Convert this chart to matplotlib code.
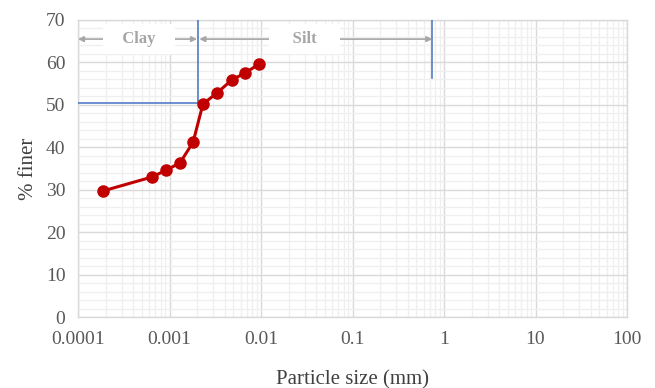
import matplotlib
matplotlib.use("Agg")
import matplotlib.pyplot as plt
from matplotlib.ticker import LogLocator, MultipleLocator, FixedLocator, FixedFormatter, NullFormatter

# Data
particle_size = [1.87e-4, 6.44e-4, 9.16e-4, 1.30e-3, 1.81e-3, 2.32e-3, 3.30e-3, 4.82e-3, 6.68e-3, 9.5e-3]
percent_finer = [29.7, 33.0, 34.6, 36.3, 41.2, 50.2, 52.8, 55.9, 57.5, 59.6]
x_ticks = [1e-4, 1e-3, 1e-2, 1e-1, 1, 10, 100]
x_tick_labels = ["0.0001", "0.001", "0.01", "0.1", "1", "10", "100"]
y_ticks = [0, 10, 20, 30, 40, 50, 60, 70]
clay_silt_boundary = 0.00206
silt_upper = 0.745
d_level = 50.4
silt_line_bottom = 56.4
arrow_level = 65.5
clay_label_x = 4.6e-4
silt_label_x = 0.03

plt.rcParams['font.family'] = ['Liberation Serif', 'DejaVu Serif']

fig = plt.figure(figsize=(6.55, 3.88), dpi=100)
ax = fig.add_axes([78/655, 1-317/388, (627-78)/655, (317-20)/388])

ax.set_xscale('log')
ax.set_xlim(1e-4, 100)
ax.set_ylim(0, 70)

ax.xaxis.set_major_locator(FixedLocator(x_ticks))
ax.xaxis.set_major_formatter(FixedFormatter(x_tick_labels))
ax.xaxis.set_minor_locator(LogLocator(base=10, subs=range(2, 10), numticks=100))
ax.xaxis.set_minor_formatter(NullFormatter())
ax.yaxis.set_major_locator(FixedLocator(y_ticks))
ax.yaxis.set_minor_locator(MultipleLocator(2))

ax.grid(which='major', color='#d9d9d9', linewidth=1.0)
ax.grid(which='minor', color='#efefef', linewidth=0.9)
ax.set_axisbelow(True)
for s in ax.spines.values():
    s.set_color('#d9d9d9')
    s.set_linewidth(1.0)
ax.tick_params(which='both', length=0)
ax.tick_params(axis='x', pad=10, labelsize=14, colors='#595959')
ax.tick_params(axis='y', pad=9, labelsize=14, colors='#595959')

# Boundary lines
blue = '#4472C4'
ax.plot([clay_silt_boundary, clay_silt_boundary], [d_level, 70], color=blue, lw=1.1, zorder=3)
ax.plot([1e-4, clay_silt_boundary], [d_level, d_level], color=blue, lw=1.1, zorder=3)
ax.plot([silt_upper, silt_upper], [silt_line_bottom, 70], color=blue, lw=1.1, zorder=3)

# Arrows
arrow_kw = dict(arrowstyle='<|-|>', color='#a6a6a6', lw=1.2, mutation_scale=8, shrinkA=0, shrinkB=0)
ax.annotate('', xy=(1e-4, arrow_level), xytext=(clay_silt_boundary*0.97, arrow_level), arrowprops=arrow_kw, zorder=4)
ax.annotate('', xy=(clay_silt_boundary*1.03, arrow_level), xytext=(silt_upper, arrow_level), arrowprops=arrow_kw, zorder=4)

ax.text(clay_label_x, arrow_level, '   Clay   ', ha='center', va='center',
        fontsize=12, fontweight='bold', color='#a6a6a6', zorder=5,
        bbox=dict(facecolor='white', edgecolor='none', pad=5))
ax.text(silt_label_x, arrow_level, '    Silt    ', ha='center', va='center',
        fontsize=12, fontweight='bold', color='#a6a6a6', zorder=5,
        bbox=dict(facecolor='white', edgecolor='none', pad=5))

# Data
ax.plot(particle_size, percent_finer, color='#C00000', lw=2.2, marker='o', markersize=8, zorder=6)

ax.set_xlabel('Particle size (mm)', fontsize=15, color='#404040', labelpad=16)
ax.set_ylabel('% finer', fontsize=15, color='#404040', labelpad=6)

fig.savefig('out.png', dpi=100)
